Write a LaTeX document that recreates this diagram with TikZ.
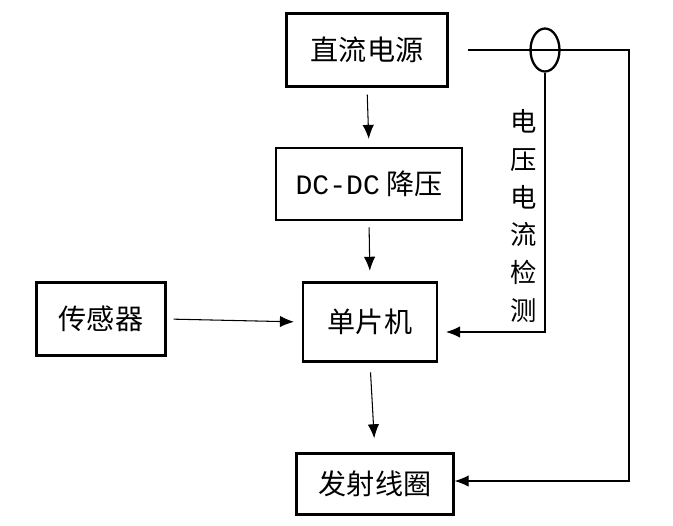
\documentclass[tikz,border=0pt]{standalone}
\usepackage{fontspec}
\setmainfont{Noto Sans CJK SC}
\newfontfamily\monofont{Liberation Mono}
\usepackage{tikz}
\usetikzlibrary{arrows.meta,shapes.geometric}

\begin{document}
\begin{tikzpicture}[x=0.02cm,y=-0.02cm]

\tikzset{block/.style = {shape=rectangle,draw,line width=1.3pt,font=\fontsize{16}{18}\selectfont}}
\tikzset{edge/.style = {-{Latex[length=8pt,width=6.5pt]},line width=0.6pt}}
\useasboundingbox (0,0) rectangle (673,525);
% blocks
\node[block,minimum width=3.22cm,minimum height=1.46cm] (power) at (367,50) {直流电源};
\node[block,minimum width=3.72cm,minimum height=1.44cm] (buck) at (369,184) {{\monofont DC-DC} 降压};
\node[block,minimum width=2.68cm,minimum height=1.58cm] (mcu) at (370,322) {单片机};
\node[block,minimum width=2.58cm,minimum height=1.46cm] (sensor) at (101,319) {传感器};
\node[block,minimum width=3.14cm,minimum height=1.22cm] (coil) at (375,484) {发射线圈};
\node[shape=ellipse,draw,line width=1.3pt,minimum width=0.58cm,minimum height=0.86cm,inner sep=0pt] (ring) at (545,50) {};
\node[font=\fontsize{15}{21.5}\selectfont,align=center] (sense) at (524,216) {电\\压\\电\\流\\检\\测};
\coordinate (corner1) at (629,50);
\coordinate (corner2) at (629,481);
\coordinate (tap) at (545,332);
%edges
\draw[edge,shorten <=4pt,shorten >=4.5pt] (power.south) -- (buck.north);
\draw[edge,shorten <=3.5pt,shorten >=6pt] (buck.south) -- (mcu.north);
\draw[edge,shorten <=4pt,shorten >=4.5pt] (sensor.east) -- (mcu.west);
\draw[edge,shorten <=5.5pt,shorten >=8pt] (mcu.south) -- (coil.north);
\draw[edge,shorten <=11pt,shorten >=0pt] (power.east) -- (corner1) -- (corner2) -- (coil.east |- corner2);
\draw[edge,shorten >=4.5pt] (ring.south) -- (tap) -- (mcu.east |- tap);

\end{tikzpicture}
\end{document}
